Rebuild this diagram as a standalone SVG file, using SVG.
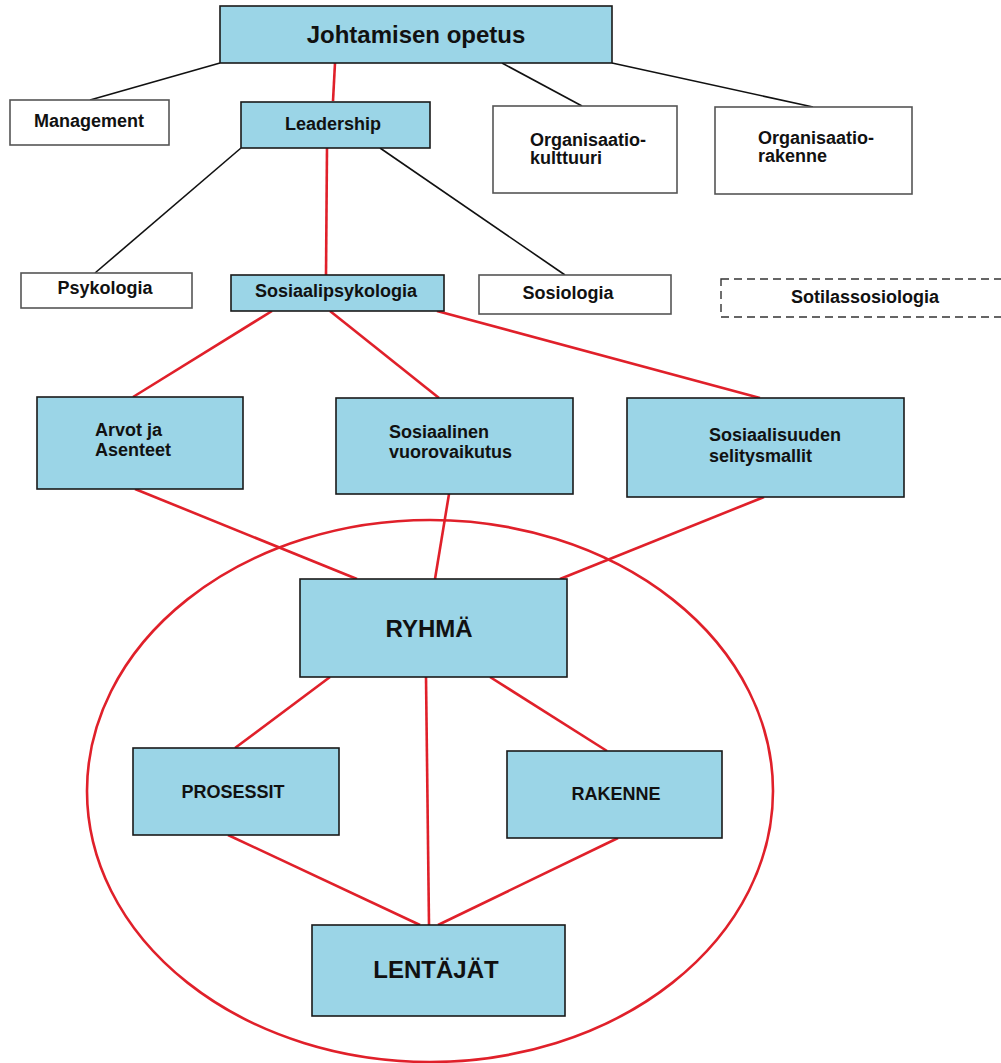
<svg xmlns="http://www.w3.org/2000/svg" width="1001" height="1063" viewBox="0 0 1001 1063">
<style>
.blue{fill:#9bd5e7;stroke:#1a1a1a;stroke-width:1.6}
.white{fill:#ffffff;stroke:#555555;stroke-width:1.6}
.dash{fill:#ffffff;stroke:#333333;stroke-width:1.4;stroke-dasharray:8 5}
.blk{stroke:#111111;stroke-width:1.6;fill:none}
.red{stroke:#e0202a;stroke-width:2.6;fill:none}
text{font-family:"Liberation Sans",Arial,sans-serif;font-weight:bold;fill:#111111}
.s18{font-size:18px}
.s24{font-size:24px}
.c{text-anchor:middle}
</style>
<rect width="1001" height="1063" fill="#ffffff"/>
<g id="connectors">
<line class="blk" x1="220" y1="63" x2="90" y2="100"/>
<line class="blk" x1="502" y1="63" x2="582" y2="106"/>
<line class="blk" x1="612" y1="63" x2="813" y2="107"/>
<line class="blk" x1="241" y1="148" x2="95" y2="273"/>
<line class="blk" x1="380" y1="148" x2="565" y2="275"/>
<line class="red" x1="335" y1="63" x2="333" y2="101"/>
<line class="red" x1="327" y1="148" x2="326" y2="275"/>
<line class="red" x1="272" y1="311" x2="133" y2="397"/>
<line class="red" x1="330" y1="311" x2="439" y2="398"/>
<line class="red" x1="437" y1="311" x2="760" y2="398"/>
<line class="red" x1="135" y1="489" x2="357" y2="579"/>
<line class="red" x1="449" y1="494" x2="435" y2="579"/>
<line class="red" x1="764" y1="497" x2="560" y2="579"/>
<line class="red" x1="330" y1="677" x2="235" y2="748"/>
<line class="red" x1="426" y1="677" x2="429" y2="925"/>
<line class="red" x1="490" y1="677" x2="607" y2="751"/>
<line class="red" x1="228" y1="835" x2="420" y2="925"/>
<line class="red" x1="618" y1="838" x2="438" y2="925"/>
<ellipse class="red" cx="430" cy="791" rx="343" ry="271"/>
</g>
<g id="johtamisen">
<rect class="blue" x="220" y="6" width="392" height="57"/>
<text class="s24 c" x="416" y="43">Johtamisen opetus</text>
</g>
<g id="management">
<rect class="white" x="10" y="100" width="159" height="45"/>
<text class="s18 c" x="89" y="127">Management</text>
</g>
<g id="leadership">
<rect class="blue" x="241" y="102" width="189" height="46"/>
<text class="s18 c" x="333" y="130">Leadership</text>
</g>
<g id="org-kulttuuri">
<rect class="white" x="493" y="106" width="184" height="87"/>
<text class="s18" x="530" y="146">Organisaatio-</text>
<text class="s18" x="530" y="164">kulttuuri</text>
</g>
<g id="org-rakenne">
<rect class="white" x="715" y="107" width="197" height="87"/>
<text class="s18" x="758" y="144">Organisaatio-</text>
<text class="s18" x="758" y="162">rakenne</text>
</g>
<g id="psykologia">
<rect class="white" x="21" y="273" width="171" height="35"/>
<text class="s18 c" x="105" y="294">Psykologia</text>
</g>
<g id="sosiaalipsykologia">
<rect class="blue" x="231" y="275" width="213" height="36"/>
<text class="s18 c" x="336" y="297">Sosiaalipsykologia</text>
</g>
<g id="sosiologia">
<rect class="white" x="479" y="275" width="192" height="39"/>
<text class="s18 c" x="568" y="299">Sosiologia</text>
</g>
<g id="sotilassosiologia">
<rect class="dash" x="721" y="279" width="284" height="38"/>
<text class="s18 c" x="865" y="303">Sotilassosiologia</text>
</g>
<g id="arvot">
<rect class="blue" x="37" y="397" width="206" height="92"/>
<text class="s18" x="95" y="436">Arvot ja</text>
<text class="s18" x="95" y="456">Asenteet</text>
</g>
<g id="vuorovaikutus">
<rect class="blue" x="336" y="398" width="237" height="96"/>
<text class="s18" x="389" y="438">Sosiaalinen</text>
<text class="s18" x="389" y="458">vuorovaikutus</text>
</g>
<g id="selitysmallit">
<rect class="blue" x="627" y="398" width="277" height="99"/>
<text class="s18" x="709" y="441">Sosiaalisuuden</text>
<text class="s18" x="709" y="462">selitysmallit</text>
</g>
<g id="ryhma">
<rect class="blue" x="300" y="579" width="267" height="98"/>
<text class="s24 c" x="429" y="637">RYHMÄ</text>
</g>
<g id="prosessit">
<rect class="blue" x="133" y="748" width="206" height="87"/>
<text class="s18 c" x="233" y="798">PROSESSIT</text>
</g>
<g id="rakenne">
<rect class="blue" x="507" y="751" width="215" height="87"/>
<text class="s18 c" x="616" y="800">RAKENNE</text>
</g>
<g id="lentajat">
<rect class="blue" x="312" y="925" width="253" height="91"/>
<text class="s24 c" x="436" y="978">LENTÄJÄT</text>
</g>
</svg>
